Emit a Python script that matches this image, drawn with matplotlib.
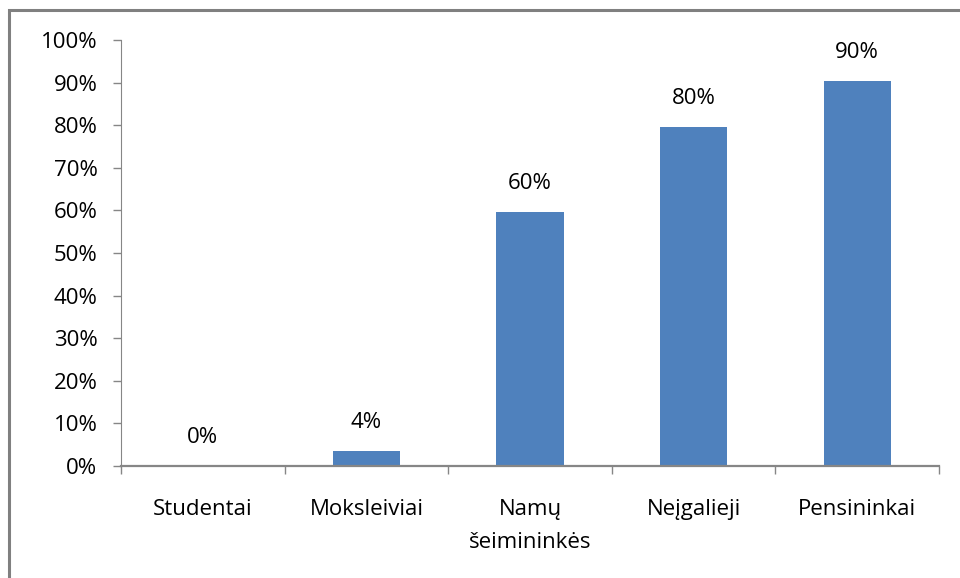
import numpy as np
import matplotlib.pyplot as plt
from matplotlib.lines import Line2D

categories = ["Studentai", "Moksleiviai", "Namų\nšeimininkės", "Neįgalieji", "Pensininkai"]
values = [0.0, 3.6, 59.6, 79.6, 90.3]
yticks = [0, 10, 20, 30, 40, 50, 60, 70, 80, 90, 100]

BAR_COLOR = "#4F81BD"
AXIS_COLOR = "#868686"
FS = 16

plt.rcParams['font.family'] = ['Open Sans', 'DejaVu Sans']

fig = plt.figure(figsize=(9.6, 5.78), dpi=100)
ax = fig.add_axes([121 / 960, 1 - 466 / 578, (939 - 121) / 960, (466 - 40) / 578])

x = np.arange(len(categories))
ax.bar(x, values, width=0.41, color=BAR_COLOR)

for xi, v in zip(x, values):
    ax.annotate(f"{v:.0f}%", (xi, v), xytext=(0, 13), textcoords="offset points",
                ha="center", va="bottom", fontsize=FS, color="black")

ax.set_xlim(-0.5, len(categories) - 0.5)
ax.set_ylim(0, 100)

ax.set_yticks(yticks)
ax.set_yticklabels([f"{t}%" for t in yticks])
ax.tick_params(axis="y", direction="out", length=6, width=1, color=AXIS_COLOR,
               pad=11, labelsize=FS)

ax.set_xticks(x)
ax.set_xticklabels(categories, linespacing=1.7)
ax.set_xticks(np.arange(len(categories) + 1) - 0.5, minor=True)
ax.tick_params(axis="x", which="major", length=0, pad=24, labelsize=FS)
ax.tick_params(axis="x", which="minor", direction="out", length=5.5, width=1, color=AXIS_COLOR)

for side in ["top", "right"]:
    ax.spines[side].set_visible(False)
ax.spines["left"].set_color(AXIS_COLOR)
ax.spines["bottom"].set_color(AXIS_COLOR)
ax.spines["bottom"].set_linewidth(1.6)

# frame on the left and top edges of the image
fx = 8.5 / 960
fy = 1 - 9.5 / 578
fig.add_artist(Line2D([fx, fx, 1.0], [0.0, fy, fy], transform=fig.transFigure,
                      color="#808080", linewidth=2.2, solid_joinstyle="miter"))

fig.savefig("out.png", dpi=100)
